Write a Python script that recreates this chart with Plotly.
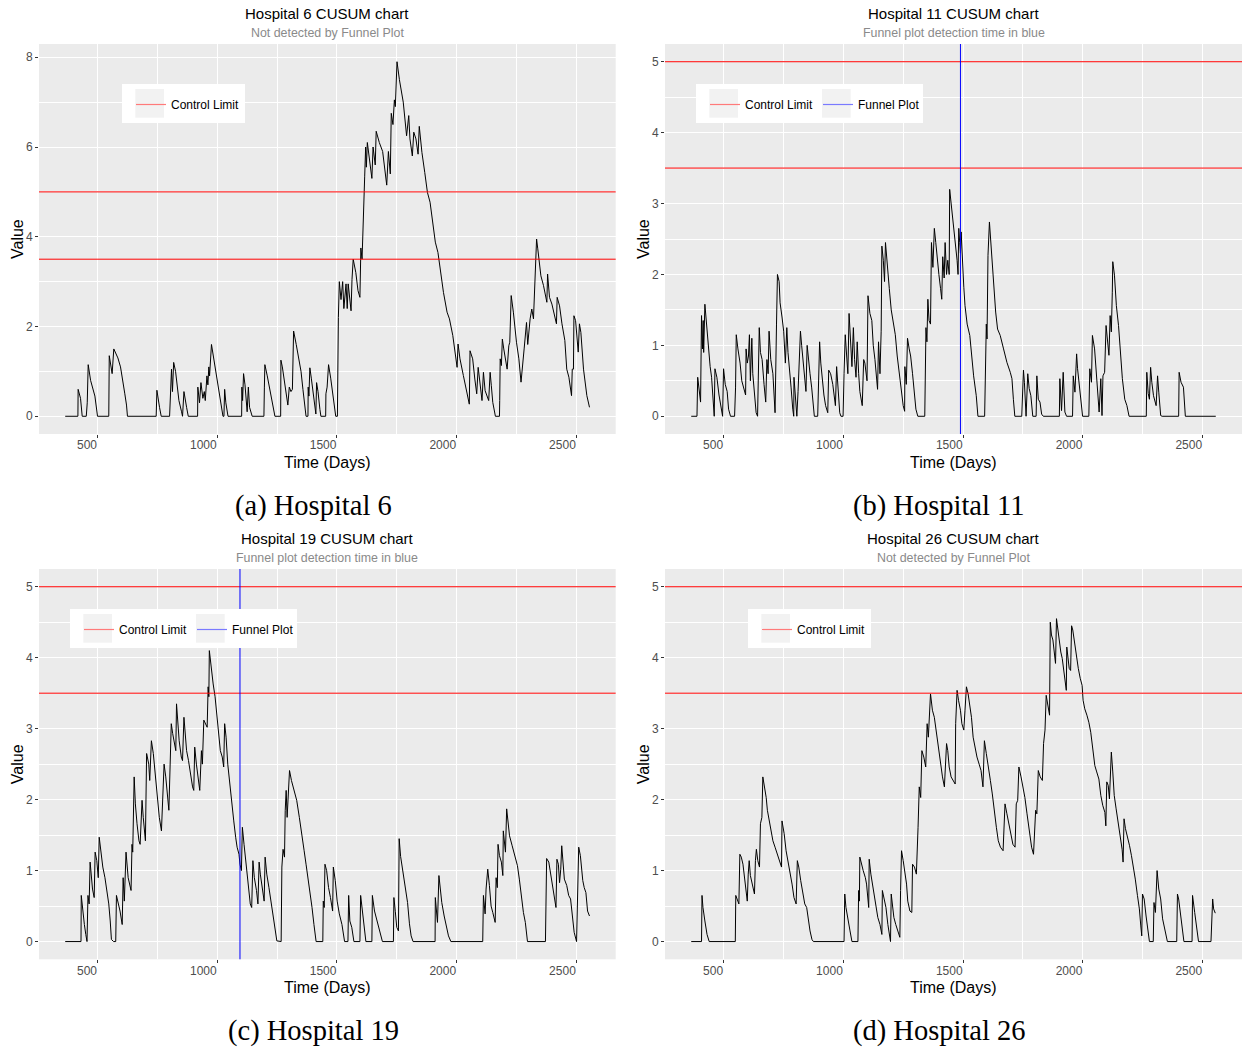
import plotly.graph_objects as go

# ---------------------------------------------------------------------------
# CUSUM series (day, cumulative sum value) for four hospitals
# ---------------------------------------------------------------------------
days_h6 = [
    365, 418, 419, 429, 436, 453, 457, 461, 471, 480,
    489, 500, 547, 549, 561, 568, 585, 596, 606, 614,
    621, 625, 745, 748, 759, 766, 801, 804, 809, 813,
    818, 826, 833, 840, 851, 855, 861, 865, 872, 879,
    918, 919, 926, 932, 940, 946, 950, 957, 961, 965,
    968, 976, 982, 990, 1000, 1010, 1018, 1024, 1028, 1031,
    1036, 1045, 1102, 1103, 1106, 1110, 1116, 1125, 1130, 1135,
    1146, 1195, 1197, 1199, 1209, 1219, 1227, 1235, 1241, 1265,
    1266, 1272, 1280, 1288, 1295, 1301, 1308, 1314, 1319, 1330,
    1341, 1350, 1358, 1365, 1371, 1379, 1380, 1383, 1387, 1393,
    1400, 1407, 1412, 1415, 1421, 1429, 1433, 1453, 1454, 1459,
    1465, 1474, 1485, 1495, 1502, 1503, 1506, 1510, 1517, 1524,
    1529, 1538, 1543, 1547, 1559, 1563, 1568, 1579, 1588, 1596,
    1600, 1605, 1609, 1613, 1616, 1620, 1623, 1627, 1632, 1646,
    1651, 1660, 1664, 1677, 1691, 1701, 1708, 1715, 1723, 1727,
    1734, 1740, 1744, 1751, 1761, 1777, 1783, 1791, 1800, 1805,
    1815, 1821, 1830, 1839, 1844, 1855, 1867, 1878, 1889, 1900,
    1911, 1922, 1934, 1945, 1960, 1970, 1984, 1995, 2002, 2006,
    2014, 2028, 2041, 2053, 2056, 2067, 2076, 2084, 2090, 2098,
    2106, 2112, 2119, 2134, 2140, 2145, 2151, 2162, 2179, 2180,
    2182, 2187, 2191, 2197, 2211, 2218, 2222, 2228, 2237, 2250,
    2260, 2269, 2276, 2282, 2292, 2297, 2307, 2314, 2321, 2325,
    2331, 2334, 2339, 2346, 2352, 2363, 2374, 2377, 2380, 2388,
    2398, 2409, 2417, 2420, 2430, 2440, 2452, 2460, 2469, 2480,
    2483, 2488, 2490, 2497, 2508, 2513, 2519, 2530, 2544, 2555,
]
cusum_h6 = [
    0, 0, 0.6, 0.4, 0, 0, 0.3, 1.15, 0.8, 0.6,
    0.45, 0, 0, 1.35, 0.95, 1.5, 1.3, 1.1, 0.8, 0.5,
    0.25, 0, 0, 0.58, 0.2, 0, 0, 0.55, 1.05, 0.55,
    1.2, 1.0, 0.6, 0.35, 0.1, 0, 0.55, 0.45, 0.2, 0,
    0, 0.65, 0.3, 0.75, 0.4, 0.55, 0.35, 0.9, 0.7, 1.1,
    0.9, 1.6, 1.4, 1.1, 0.8, 0.5, 0.15, 0, 0, 0.6,
    0.3, 0, 0, 0.65, 0.35, 0.95, 0.7, 0.1, 0.65, 0.2,
    0, 0, 0.65, 1.15, 0.9, 0.6, 0.35, 0.15, 0, 0,
    1.25, 1.1, 0.8, 0.45, 0.25, 0.65, 0.55, 0.6, 1.9, 1.6,
    1.3, 1.0, 0.6, 0.3, 0, 0, 0.65, 0.45, 1.08, 0.85,
    0.55, 0.2, 0.05, 0.75, 0.55, 0.15, 0, 0, 0.5, 0.65,
    1.15, 0.85, 0.45, 0, 0, 1.3, 2.2, 3.0, 2.6, 3.0,
    2.4, 2.95, 2.4, 2.95, 2.35, 3.05, 3.5, 3.2, 2.8, 2.65,
    3.75, 3.5, 4.3, 5.25, 5.35, 6.0, 5.55, 6.1, 5.9, 5.3,
    6.0, 5.6, 6.35, 6.1, 5.9, 5.5, 5.15, 5.9, 5.4, 6.75,
    6.5, 7.05, 6.9, 7.9, 7.5, 7.0, 6.73, 6.25, 6.7, 6.18,
    5.8, 6.33, 6.18, 5.84, 6.46, 5.88, 5.43, 4.99, 4.77, 4.32,
    3.88, 3.65, 3.2, 2.76, 2.32, 2.17, 1.8, 1.43, 1.09, 1.61,
    1.28, 0.91, 0.53, 0.27, 1.46, 1.28, 0.83, 0.5, 1.09, 0.76,
    0.35, 0.98, 0.57, 0.35, 0.98, 0.68, 0.31, 0, 0, 0.35,
    1.28, 1.13, 1.72, 1.5, 1.05, 1.57, 1.65, 2.69, 2.32, 1.65,
    1.28, 0.76, 1.28, 1.5, 2.09, 1.6, 2.17, 2.39, 2.17, 2.76,
    3.36, 3.95, 3.73, 3.47, 3.13, 2.91, 2.65, 2.54, 3.17, 2.65,
    2.5, 2.24, 2.06, 2.65, 2.46, 2.06, 1.69, 1.05, 0.87, 0.46,
    1.05, 1.05, 2.24, 2.13, 1.43, 2.06, 1.87, 1.05, 0.46, 0.2,
]

days_h11 = [
    365, 389, 392, 400, 404, 408, 412, 415, 417, 422,
    431, 439, 444, 450, 456, 461, 464, 472, 481, 489,
    496, 500, 507, 515, 521, 529, 546, 550, 553, 560,
    569, 576, 583, 592, 594, 599, 604, 608, 612, 618,
    622, 631, 636, 642, 646, 649, 654, 661, 669, 676,
    681, 686, 690, 697, 706, 711, 715, 721, 725, 732,
    736, 744, 751, 758, 764, 769, 775, 782, 789, 793,
    794, 800, 806, 811, 815, 821, 826, 832, 839, 844,
    849, 854, 861, 868, 875, 879, 893, 896, 901, 906,
    913, 919, 926, 935, 939, 947, 956, 963, 967, 972,
    979, 985, 990, 999, 1003, 1008, 1014, 1019, 1024, 1031,
    1036, 1042, 1047, 1053, 1058, 1064, 1069, 1079, 1085, 1090,
    1099, 1103, 1111, 1119, 1125, 1132, 1138, 1143, 1147, 1153,
    1158, 1161, 1167, 1172, 1176, 1183, 1192, 1200, 1208, 1217,
    1225, 1233, 1242, 1250, 1256, 1257, 1263, 1268, 1275, 1281,
    1289, 1296, 1303, 1311, 1340, 1345, 1349, 1353, 1358, 1364,
    1368, 1374, 1380, 1386, 1392, 1399, 1406, 1411, 1415, 1421,
    1425, 1431, 1436, 1442, 1444, 1450, 1456, 1463, 1469, 1475,
    1479, 1482, 1486, 1489, 1492, 1497, 1503, 1508, 1517, 1528,
    1535, 1544, 1555, 1562, 1590, 1593, 1597, 1600, 1604, 1610,
    1616, 1625, 1636, 1644, 1655, 1669, 1683, 1697, 1704, 1710,
    1716, 1745, 1752, 1756, 1763, 1770, 1776, 1783, 1791, 1805,
    1808, 1814, 1821, 1828, 1835, 1902, 1904, 1911, 1918, 1925,
    1932, 1957, 1960, 1967, 1974, 1978, 1985, 1993, 1999, 2025,
    2029, 2036, 2040, 2049, 2054, 2061, 2068, 2075, 2080, 2084,
    2091, 2097, 2102, 2109, 2114, 2119, 2123, 2125, 2132, 2140,
    2149, 2158, 2165, 2175, 2184, 2193, 2265, 2267, 2273, 2278,
    2283, 2288, 2295, 2306, 2312, 2317, 2325, 2331, 2400, 2402,
    2410, 2420, 2428, 2555,
]
cusum_h11 = [
    0, 0, 0.55, 0.35, 0.2, 1.42, 0.95, 1.35, 0.9, 1.58,
    1.2, 0.95, 0.7, 0.55, 0.3, 0, 0.67, 0.55, 0.3, 0.1,
    0, 0.67, 0.45, 0.35, 0.1, 0, 0, 0.4, 1.15, 0.95,
    0.75, 0.5, 0.4, 0.3, 0.95, 0.75, 0.85, 1.15, 0.5, 1.1,
    0.6, 0.3, 0.05, 0, 0.5, 1.25, 0.9, 0.8, 0.45, 0.2,
    0.8, 0.6, 1.2, 0.8, 0.6, 0.3, 0.05, 1.3, 2.0, 1.9,
    1.6, 1.4, 1.2, 0.75, 1.25, 0.9, 0.7, 0.4, 0.1, 0,
    0.55, 0.25, 0, 0.35, 0.8, 1.2, 1.0, 0.75, 0.5, 0.35,
    1.0, 0.8, 0.6, 0.4, 0.1, 0, 0, 0.5, 1.05, 0.75,
    0.5, 0.3, 0.15, 0.05, 0.65, 0.6, 0.45, 0.3, 0.15, 0.7,
    0.4, 0.05, 0, 0, 0.6, 1.15, 0.85, 0.6, 1.45, 1.0,
    0.7, 1.25, 0.8, 0.55, 1.05, 0.6, 0.35, 0.15, 0.8, 0.75,
    0.5, 1.7, 1.45, 1.35, 1.0, 0.8, 0.6, 0.38, 1.05, 0.6,
    1.2, 2.4, 2.2, 1.9, 2.45, 2.1, 1.8, 1.5, 1.3, 1.15,
    0.85, 0.6, 0.35, 0.15, 0.07, 0.7, 0.45, 1.1, 0.95, 0.85,
    0.6, 0.3, 0.1, 0, 0, 1.25, 1.05, 1.65, 1.35, 1.3,
    2.45, 2.1, 2.65, 2.45, 2.2, 2.0, 1.8, 1.65, 2.25, 1.95,
    2.45, 2.0, 2.2, 2.0, 3.2, 3.0, 2.9, 2.6, 2.4, 2.2,
    2.0, 2.65, 2.45, 2.3, 2.6, 2.13, 1.82, 1.56, 1.3, 1.14,
    0.86, 0.57, 0.29, 0, 0, 0.97, 1.3, 1.09, 2.27, 2.74,
    2.41, 2.03, 1.47, 1.23, 1.14, 0.95, 0.76, 0.62, 0.53, 0.24,
    0, 0, 0.65, 0.48, 0, 0.6, 0.39, 0.29, 0, 0,
    0.57, 0.24, 0.2, 0.03, 0, 0, 0.53, 0.08, 0.62, 0.06,
    0, 0, 0.57, 0.34, 0.88, 0.67, 0.43, 0.1, 0, 0,
    0.67, 0.48, 1.14, 0.95, 0.72, 0.29, 0.06, 0.53, 0.01, 0.57,
    0.62, 1.28, 1.14, 0.86, 1.42, 1.19, 1.75, 2.18, 1.99, 1.56,
    1.28, 0.81, 0.53, 0.24, 0.15, 0, 0, 0.62, 0.32, 0.24,
    0.69, 0.48, 0.29, 0.15, 0.57, 0.34, 0.01, 0, 0, 0.62,
    0.48, 0.41, 0, 0,
]

days_h19 = [
    365, 431, 432, 438, 445, 451, 456, 460, 465, 469,
    474, 479, 486, 490, 497, 503, 507, 514, 522, 531,
    539, 547, 553, 558, 567, 576, 579, 587, 594, 603,
    607, 612, 619, 628, 633, 640, 644, 647, 653, 658,
    665, 673, 678, 686, 691, 700, 705, 714, 718, 725,
    733, 741, 750, 758, 767, 772, 778, 785, 793, 798,
    803, 808, 814, 822, 827, 830, 836, 841, 850, 855,
    861, 866, 872, 880, 888, 897, 902, 906, 913, 920,
    927, 934, 938, 944, 952, 958, 962, 965, 967, 974,
    983, 991, 999, 1008, 1013, 1021, 1027, 1031, 1037, 1044,
    1052, 1060, 1069, 1077, 1083, 1091, 1095, 1101, 1105, 1112,
    1119, 1127, 1133, 1138, 1144, 1149, 1155, 1164, 1170, 1175,
    1180, 1185, 1191, 1196, 1200, 1207, 1216, 1224, 1232, 1241,
    1249, 1267, 1270, 1275, 1281, 1284, 1288, 1292, 1296, 1302,
    1310, 1321, 1332, 1343, 1354, 1363, 1371, 1379, 1388, 1396,
    1404, 1413, 1441, 1443, 1447, 1450, 1457, 1465, 1473, 1482,
    1485, 1493, 1501, 1510, 1521, 1532, 1546, 1549, 1554, 1562,
    1571, 1596, 1599, 1604, 1612, 1621, 1646, 1648, 1657, 1668,
    1679, 1690, 1736, 1738, 1744, 1750, 1757, 1760, 1766, 1772,
    1780, 1787, 1795, 1803, 1810, 1818, 1910, 1911, 1916, 1920,
    1926, 1931, 1938, 1948, 1956, 1966, 1976, 2109, 2112, 2119,
    2123, 2130, 2137, 2144, 2151, 2161, 2165, 2170, 2173, 2179,
    2187, 2193, 2195, 2201, 2204, 2209, 2215, 2221, 2232, 2243,
    2254, 2262, 2271, 2279, 2287, 2296, 2371, 2374, 2376, 2385,
    2393, 2401, 2410, 2415, 2419, 2425, 2430, 2435, 2439, 2443,
    2450, 2460, 2468, 2476, 2485, 2491, 2501, 2505, 2510, 2517,
    2527, 2533, 2540, 2547, 2555,
]
cusum_h19 = [
    0, 0, 0.65, 0.43, 0.24, 0.1, 0, 0.65, 0.53, 1.12,
    0.86, 0.74, 0.62, 1.26, 1.14, 0.9, 1.47, 1.28, 1.05, 0.9,
    0.72, 0.53, 0.29, 0.03, 0, 0, 0.65, 0.53, 0.43, 0.24,
    0.9, 0.57, 1.26, 0.9, 0.83, 0.72, 1.37, 1.26, 2.32, 1.94,
    1.66, 1.42, 1.37, 1.99, 1.75, 1.42, 2.65, 2.5, 2.27, 2.83,
    2.65, 2.32, 2.03, 1.75, 1.56, 2.03, 2.5, 2.32, 2.03, 1.85,
    2.46, 3.07, 2.93, 2.74, 2.69, 3.35, 3.07, 2.83, 2.6, 2.55,
    3.16, 2.93, 2.69, 2.55, 2.36, 2.18, 2.13, 2.74, 2.5, 2.27,
    2.13, 2.69, 2.5, 3.12, 3.07, 3.02, 3.59, 3.45, 4.1, 3.87,
    3.63, 3.45, 3.16, 2.88, 2.69, 2.6, 2.46, 3.07, 2.88, 2.5,
    2.22, 1.99, 1.7, 1.47, 1.33, 1.23, 1.09, 1.0, 1.61, 1.37,
    1.14, 0.9, 0.76, 0.53, 0.48, 1.14, 0.9, 0.72, 0.53, 1.12,
    0.95, 0.81, 0.67, 0.57, 1.19, 0.95, 0.76, 0.57, 0.39, 0.2,
    0.01, 0, 1.05, 1.3, 1.19, 1.85, 2.13, 1.75, 2.03, 2.41,
    2.27, 2.13, 1.99, 1.75, 1.52, 1.28, 1.09, 0.9, 0.72, 0.48,
    0.24, 0, 0, 0.57, 0.48, 1.09, 1.0, 0.76, 0.62, 0.43,
    1.05, 0.86, 0.57, 0.39, 0.24, 0, 0, 0.65, 0.29, 0.2,
    0, 0, 0.65, 0.48, 0.24, 0, 0, 0.65, 0.43, 0.29,
    0.15, 0, 0, 0.62, 0.42, 0.2, 0.15, 1.45, 1.2, 1.05,
    0.88, 0.74, 0.55, 0.25, 0.08, 0, 0, 0.62, 0.46, 0.27,
    0.93, 0.79, 0.55, 0.36, 0.22, 0.08, 0, 0, 0.65, 0.39,
    0.74, 1.02, 0.79, 0.5, 0.41, 0.27, 0.9, 0.76, 1.37, 1.21,
    1.12, 0.93, 1.56, 1.4, 1.26, 1.87, 1.68, 1.49, 1.35, 1.21,
    1.07, 0.88, 0.6, 0.41, 0.27, 0, 0, 0.65, 1.17, 1.12,
    0.93, 0.79, 0.6, 0.48, 1.16, 1.09, 0.83, 1.02, 1.35, 1.21,
    0.88, 0.79, 0.65, 0.6, 0.27, 0.13, 0, 0.69, 1.33, 1.21,
    0.86, 0.76, 0.69, 0.43, 0.36,
]

days_h26 = [
    365, 408, 410, 414, 422, 431, 440, 549, 551, 558,
    564, 568, 574, 581, 588, 593, 599, 603, 607, 612,
    617, 622, 629, 633, 637, 643, 650, 654, 660, 664,
    669, 678, 683, 692, 699, 706, 715, 725, 733, 742,
    744, 753, 761, 769, 778, 786, 794, 803, 808, 814,
    822, 831, 839, 847, 854, 861, 869, 875, 1003, 1006,
    1011, 1019, 1028, 1036, 1061, 1064, 1067, 1069, 1075, 1083,
    1092, 1097, 1106, 1108, 1115, 1122, 1129, 1138, 1144, 1153,
    1161, 1163, 1169, 1178, 1186, 1192, 1197, 1200, 1206, 1211,
    1219, 1228, 1236, 1239, 1243, 1250, 1257, 1264, 1269, 1278,
    1286, 1289, 1297, 1305, 1312, 1317, 1323, 1328, 1336, 1344,
    1350, 1355, 1364, 1372, 1380, 1389, 1397, 1406, 1414, 1422,
    1431, 1436, 1442, 1450, 1458, 1467, 1469, 1475, 1481, 1489,
    1495, 1503, 1508, 1514, 1521, 1528, 1535, 1542, 1550, 1558,
    1567, 1575, 1583, 1589, 1597, 1606, 1614, 1622, 1631, 1639,
    1647, 1656, 1667, 1675, 1683, 1692, 1700, 1708, 1717, 1722,
    1728, 1733, 1742, 1750, 1758, 1767, 1778, 1786, 1794, 1803,
    1808, 1814, 1822, 1831, 1836, 1842, 1847, 1854, 1861, 1864,
    1869, 1875, 1881, 1886, 1890, 1897, 1903, 1908, 1914, 1919,
    1925, 1931, 1933, 1939, 1943, 1949, 1953, 1958, 1965, 1972,
    1981, 1989, 1997, 2001, 2008, 2017, 2025, 2033, 2042, 2050,
    2058, 2067, 2075, 2083, 2092, 2096, 2100, 2106, 2111, 2114,
    2119, 2125, 2131, 2139, 2147, 2156, 2164, 2168, 2172, 2178,
    2186, 2195, 2203, 2211, 2219, 2228, 2236, 2242, 2246, 2249,
    2256, 2264, 2272, 2278, 2294, 2297, 2303, 2310, 2317, 2325,
    2333, 2342, 2353, 2392, 2395, 2400, 2408, 2417, 2422, 2456,
    2458, 2467, 2475, 2483, 2535, 2539, 2542, 2546, 2553,
]
cusum_h26 = [
    0, 0, 0.65, 0.48, 0.29, 0.1, 0, 0, 0.65, 0.57,
    0.53, 1.23, 1.19, 1.09, 0.86, 0.72, 0.57, 0.95, 1.14, 0.93,
    0.86, 0.76, 0.67, 1.14, 1.3, 1.14, 1.05, 1.66, 1.75, 2.32,
    2.22, 2.03, 1.85, 1.7, 1.56, 1.42, 1.33, 1.23, 1.14, 1.05,
    1.7, 1.52, 1.28, 1.14, 1.0, 0.81, 0.62, 0.53, 1.14, 1.05,
    0.86, 0.67, 0.53, 0.48, 0.29, 0.15, 0.03, 0, 0, 0.67,
    0.48, 0.29, 0.15, 0, 0, 0.72, 0.57, 1.19, 1.09, 1.0,
    0.9, 0.81, 0.48, 1.16, 0.95, 0.81, 0.67, 0.48, 0.34, 0.24,
    0.1, 0.72, 0.62, 0.48, 0.24, 0.1, 0, 0.67, 0.48, 0.34,
    0.24, 0.15, 0.06, 0.72, 1.28, 1.14, 1.0, 0.81, 0.57, 0.43,
    0.41, 1.09, 1.05, 0.95, 1.61, 2.18, 2.03, 2.69, 2.6, 2.46,
    3.07, 2.88, 3.49, 3.26, 3.16, 2.93, 2.79, 2.5, 2.32, 2.18,
    2.79, 2.69, 2.46, 2.32, 2.27, 2.22, 3.07, 3.54, 3.4, 3.26,
    3.07, 2.98, 3.26, 3.59, 3.49, 3.35, 3.16, 2.88, 2.74, 2.6,
    2.5, 2.41, 2.18, 2.83, 2.65, 2.41, 2.27, 2.08, 1.8, 1.61,
    1.42, 1.33, 1.28, 1.94, 1.8, 1.66, 1.52, 1.37, 1.33, 1.94,
    1.99, 2.46, 2.32, 2.18, 2.03, 1.8, 1.56, 1.33, 1.23, 1.85,
    1.8, 2.41, 2.32, 2.27, 2.79, 2.98, 3.47, 3.33, 3.19, 4.5,
    4.32, 4.25, 4.06, 3.92, 4.55, 4.36, 4.27, 4.08, 3.99, 3.85,
    3.75, 3.54, 4.15, 3.96, 3.85, 3.82, 4.45, 4.39, 4.22, 4.03,
    3.85, 3.71, 3.61, 3.4, 3.28, 3.19, 3.09, 2.95, 2.72, 2.48,
    2.39, 2.29, 2.06, 1.92, 1.82, 1.63, 2.25, 2.2, 2.01, 2.2,
    2.67, 2.39, 2.06, 1.87, 1.68, 1.45, 1.3, 1.12, 1.73, 1.59,
    1.49, 1.35, 1.21, 1.07, 0.88, 0.65, 0.46, 0.22, 0.08, 0.67,
    0.6, 0.36, 0.17, 0, 0, 0.55, 0.41, 1.0, 0.74, 0.6,
    0.32, 0.17, 0, 0, 0.67, 0.6, 0.36, 0.17, 0, 0,
    0.65, 0.41, 0.17, 0, 0, 0.55, 0.6, 0.46, 0.4,
]

control_limits = [3.5, 5.0]
funnel_detection_day = {"h11": 1489, "h19": 1095}

titles = {
    "h6": "Hospital 6 CUSUM chart",
    "h11": "Hospital 11 CUSUM chart",
    "h19": "Hospital 19 CUSUM chart",
    "h26": "Hospital 26 CUSUM chart",
}
subtitles = {
    "h6": "Not detected by Funnel Plot",
    "h11": "Funnel plot detection time in blue",
    "h19": "Funnel plot detection time in blue",
    "h26": "Not detected by Funnel Plot",
}
captions = {
    "h6": "(a) Hospital 6",
    "h11": "(b) Hospital 11",
    "h19": "(c) Hospital 19",
    "h26": "(d) Hospital 26",
}
x_ticks = [500, 1000, 1500, 2000, 2500]

# ---------------------------------------------------------------------------
# Layout geometry (pixels)
# ---------------------------------------------------------------------------
W, H = 1243, 1048
SANS = "Liberation Sans, Arial, sans-serif"
SERIF = "Liberation Serif, Times New Roman, serif"
PANEL_BG = "#EBEBEB"
KEY_BG = "#F2F2F2"
TICK_GREY = "#4D4D4D"
KEY_PITCH = 112.7   # distance between neighbouring legend keys
KEY_W, KEY_H = 28.7, 28.7

panels = [
    # plot box (left, right, top, bottom), y-range, y major step,
    # legend box (left, top, width)
    dict(key="h6", ax="", x0=39, x1=615.7, y0=44, y1=434,
         yrange=[-0.395, 8.295], ydtick=2, lg=(122, 84, 123)),
    dict(key="h11", ax="2", x0=665, x1=1242, y0=44, y1=434,
         yrange=[-0.25, 5.25], ydtick=1, lg=(696, 84, 227)),
    dict(key="h19", ax="3", x0=39, x1=615.7, y0=569, y1=959.3,
         yrange=[-0.25, 5.25], ydtick=1, lg=(70, 609, 227)),
    dict(key="h26", ax="4", x0=665, x1=1242, y0=569, y1=959.3,
         yrange=[-0.25, 5.25], ydtick=1, lg=(748, 609, 123)),
]
series = {
    "h6": (days_h6, cusum_h6),
    "h11": (days_h11, cusum_h11),
    "h19": (days_h19, cusum_h19),
    "h26": (days_h26, cusum_h26),
}
X_RANGE = [255.5, 2664.5]


def px_x(p):
    return p / W


def px_y(p):
    return 1 - p / H


fig = go.Figure()
layout = dict(
    width=W, height=H, margin=dict(l=0, r=0, t=0, b=0),
    paper_bgcolor="white", plot_bgcolor=PANEL_BG,
    font=dict(family=SANS, color="black"),
    showlegend=True,
)
shapes, annotations = [], []

for p in panels:
    key, ax = p["key"], p["ax"]
    xname, yname = "x" + ax, "y" + ax
    days, vals = series[key]
    assert len(days) == len(vals), key
    legend_name = "legend" + ax

    layout["xaxis" + ax] = dict(
        domain=[px_x(p["x0"]), px_x(p["x1"])], anchor=yname,
        range=X_RANGE, tickvals=x_ticks, ticktext=[str(v) for v in x_ticks],
        showgrid=True, gridcolor="white", gridwidth=1.1,
        minor=dict(tickvals=[750, 1250, 1750, 2250], showgrid=True,
                   gridcolor="white", gridwidth=0.55, ticks=""),
        zeroline=False, showline=False,
        ticks="outside", ticklen=3, tickcolor="#333333", tickwidth=1,
        ticklabelposition="outside left",
        tickfont=dict(size=12, color=TICK_GREY, family=SANS),
    )
    ymax = p["yrange"][1]
    major = [v for v in range(0, 9, p["ydtick"]) if v <= ymax]
    minor = [m + p["ydtick"] / 2 for m in major if m + p["ydtick"] / 2 <= ymax]
    layout["yaxis" + ax] = dict(
        domain=[px_y(p["y1"]), px_y(p["y0"])], anchor=xname,
        range=p["yrange"], tickvals=major,
        showgrid=True, gridcolor="white", gridwidth=1.1,
        minor=dict(tickvals=minor, showgrid=True, gridcolor="white",
                   gridwidth=0.55, ticks=""),
        zeroline=False, showline=False,
        ticks="outside", ticklen=3, tickcolor="#333333", tickwidth=1,
        tickfont=dict(size=12, color=TICK_GREY, family=SANS),
    )

    # CUSUM path
    fig.add_trace(go.Scatter(
        x=days, y=vals, mode="lines", xaxis=xname, yaxis=yname,
        line=dict(color="black", width=1), showlegend=False,
        hoverinfo="skip",
    ))

    # control limits
    for lim in control_limits:
        shapes.append(dict(
            type="line", xref=xname + " domain", yref=yname,
            x0=0, x1=1, y0=lim, y1=lim,
            line=dict(color="#FF0000", width=1),
        ))
    fig.add_trace(go.Scatter(
        x=[None], y=[None], mode="lines", xaxis=xname, yaxis=yname,
        name="Control Limit", legend=legend_name,
        line=dict(color="#FF7A7A", width=1.2),
    ))
    n_keys = 1

    # funnel plot detection day
    if key in funnel_detection_day:
        d = funnel_detection_day[key]
        shapes.append(dict(
            type="line", xref=xname, yref=yname + " domain",
            x0=d, x1=d, y0=0, y1=1,
            line=dict(color="#0000FF", width=1),
        ))
        fig.add_trace(go.Scatter(
            x=[None], y=[None], mode="lines", xaxis=xname, yaxis=yname,
            name="Funnel Plot", legend=legend_name,
            line=dict(color="#7A7AFF", width=1.2),
        ))
        n_keys = 2

    # legend: white box with grey key backgrounds, entries drawn on top
    lx, ly, lw = p["lg"]
    shapes.append(dict(
        type="rect", xref="paper", yref="paper",
        x0=px_x(lx), x1=px_x(lx + lw), y0=px_y(ly + 39), y1=px_y(ly),
        fillcolor="white", line=dict(width=0), layer="above",
    ))
    for k in range(n_keys):
        kx = lx + 13.3 + k * KEY_PITCH
        shapes.append(dict(
            type="rect", xref="paper", yref="paper",
            x0=px_x(kx), x1=px_x(kx + KEY_W),
            y0=px_y(ly + 5 + KEY_H), y1=px_y(ly + 5),
            fillcolor=KEY_BG, line=dict(width=0), layer="above",
        ))
    layout[legend_name] = dict(
        x=px_x(lx + 9), y=px_y(ly + 6), xanchor="left", yanchor="top",
        orientation="h", bgcolor="rgba(0,0,0,0)", borderwidth=0,
        font=dict(size=12, color="black", family=SANS),
        traceorder="normal",
    )

    cx = (p["x0"] + p["x1"]) / 2
    cy = (p["y0"] + p["y1"]) / 2
    # title and subtitle
    annotations.append(dict(
        text=titles[key], x=px_x(cx), y=px_y(p["y0"] - 30.5), xref="paper",
        yref="paper", xanchor="center", yanchor="middle", showarrow=False,
        font=dict(size=15, color="black", family=SANS),
    ))
    annotations.append(dict(
        text=subtitles[key], x=px_x(cx), y=px_y(p["y0"] - 11), xref="paper",
        yref="paper", xanchor="center", yanchor="middle", showarrow=False,
        font=dict(size=12.4, color="#8A8A8A", family=SANS),
    ))
    # axis titles
    annotations.append(dict(
        text="Time (Days)", x=px_x(cx), y=px_y(p["y1"] + 28), xref="paper",
        yref="paper", xanchor="center", yanchor="middle", showarrow=False,
        font=dict(size=16, color="black", family=SANS),
    ))
    annotations.append(dict(
        text="Value", x=px_x(p["x0"] - 22), y=px_y(cy), xref="paper",
        yref="paper", xanchor="center", yanchor="middle", showarrow=False,
        textangle=-90, font=dict(size=16, color="black", family=SANS),
    ))
    # caption beneath each chart
    annotations.append(dict(
        text=captions[key], x=px_x(cx - 14), y=px_y(p["y1"] + 72),
        xref="paper", yref="paper", xanchor="center", yanchor="middle",
        showarrow=False, font=dict(size=28.5, color="black", family=SERIF),
    ))

layout["shapes"] = shapes
layout["annotations"] = annotations
fig.update_layout(**layout)
fig.write_html("out.html")
